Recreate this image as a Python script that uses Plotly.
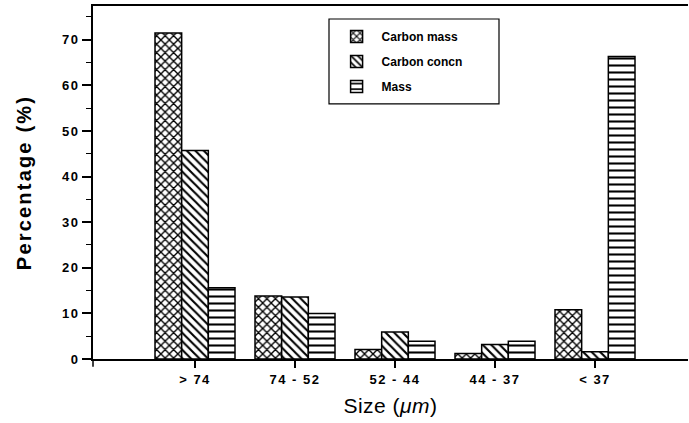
import plotly.graph_objects as go

categories = ["> 74", "74 - 52", "52 - 44", "44 - 37", "< 37"]
carbon_mass = [71.5, 13.8, 2.1, 1.2, 10.8]
carbon_concn = [45.7, 13.6, 5.9, 3.2, 1.6]
mass = [15.6, 10.0, 3.9, 3.9, 66.3]
series_names = ["Carbon mass", "Carbon concn", "Mass"]
y_ticks = [0, 10, 20, 30, 40, 50, 60, 70]

font_fam = "Liberation Sans, Arial, sans-serif"
x_idx = list(range(len(categories)))

fig = go.Figure()
patterns = [
    dict(shape="x", size=6, solidity=0.4),
    dict(shape="\\", size=6, solidity=0.35),
    dict(shape="-", size=7, solidity=0.3),
]
for i, (name, vals) in enumerate(zip(series_names, [carbon_mass, carbon_concn, mass])):
    p = patterns[i]
    fig.add_trace(go.Bar(
        x=x_idx, y=vals, name=name, legendgroup=name,
        marker=dict(
            color="white",
            line=dict(color="black", width=1.5),
            pattern=dict(shape=p["shape"], size=p["size"], solidity=p["solidity"],
                         fgcolor="black", bgcolor="white", fillmode="replace"),
        ),
    ))

fig.update_layout(
    width=689, height=423,
    margin=dict(l=93, r=1, t=6, b=64),
    paper_bgcolor="white", plot_bgcolor="white",
    barmode="group", bargap=0.2, bargroupgap=0,
    font=dict(family=font_fam, color="black", size=12),
    showlegend=True,
    legend=dict(
        x=0.401, y=0.955, xanchor="left", yanchor="top",
        borderwidth=0, bgcolor="rgba(0,0,0,0)",
        font=dict(family=font_fam, size=12, weight="bold"),
        tracegroupgap=6, itemwidth=40,
    ),
    xaxis=dict(
        range=[-1.02, 4.93], tickmode="array", tickvals=x_idx, ticktext=categories,
        showline=True, linecolor="black", linewidth=2, mirror=True,
        ticks="outside", ticklen=7, tickwidth=1.5, tickcolor="black",
        showgrid=False, zeroline=False, automargin=False,
        tickfont=dict(family=font_fam, size=13, weight="bold"),
        title=dict(text="Size (<i>μm</i>)", font=dict(family=font_fam, size=21), standoff=13),
    ),
    yaxis=dict(
        range=[0, 77.4], tickmode="array", tickvals=y_ticks,
        showline=True, linecolor="black", linewidth=2,
        ticks="outside", ticklen=9, tickwidth=1.5, tickcolor="black",
        minor=dict(dtick=5, ticks="outside", ticklen=5, tickwidth=1.2, tickcolor="black", tick0=0),
        showgrid=False, zeroline=False, automargin=False,
        tickfont=dict(family=font_fam, size=13, weight="bold"),
        title=dict(text="Percentage (%)", font=dict(family=font_fam, size=20, weight="bold"), standoff=28),
    ),
)

# legend frame
fig.add_shape(type="rect", xref="paper", yref="paper",
              x0=(329 - 93) / 595, x1=(499 - 93) / 595,
              y0=(359.3 - 104) / 353.3, y1=(359.3 - 19) / 353.3,
              line=dict(color="black", width=1.2), fillcolor="rgba(0,0,0,0)")
# small extension of the left spine below the x axis
fig.add_shape(type="line", xref="paper", yref="paper", x0=0, x1=0, y0=0, y1=-0.022,
              line=dict(color="black", width=1.5))

post = """
var s = document.createElement('style');
s.innerHTML = 'body{margin:0;padding:0}' +
  '.xtick text,.ytick text{letter-spacing:1.5px}' +
  '.g-ytitle text{letter-spacing:2.2px}' +
  '.g-xtitle text{letter-spacing:0.5px}';
document.head.appendChild(s);
"""

fig.write_html("out.html", post_script=post, config={"displayModeBar": False})
